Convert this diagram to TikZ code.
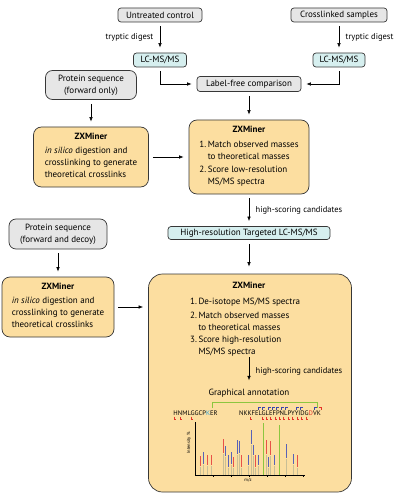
\documentclass[tikz,border=0pt]{standalone}
\usepackage{fontspec}
\setmainfont{PT Sans}
\usetikzlibrary{arrows.meta}

\definecolor{boxgray}{RGB}{230,230,230}
\definecolor{boxcyan}{RGB}{214,239,239}
\definecolor{boxorange}{RGB}{252,222,160}
\definecolor{edgegray}{RGB}{55,55,55}
\definecolor{linkgreen}{RGB}{140,198,63}
\definecolor{ionred}{RGB}{228,50,40}
\definecolor{ionblue}{RGB}{60,70,170}
\definecolor{sitecyan}{RGB}{40,160,220}
\definecolor{peakgray}{RGB}{200,190,150}

\tikzset{
  smallbox/.style={draw=edgegray, fill=boxgray, rounded corners=3pt, line width=0.7pt, inner sep=1pt},
  msbox/.style={smallbox, fill=boxcyan},
  seqbox/.style={draw=edgegray, fill=boxgray, rounded corners=7pt, line width=0.7pt, align=center, inner sep=1pt},
  minerbox/.style={draw=edgegray, fill=boxorange, rounded corners=8pt, line width=0.7pt, align=center, inner sep=2pt},
  arr/.style={-{Latex[length=4.5pt,width=3.5pt]}, line width=0.6pt, black, shorten >=5pt, shorten <=4pt},
  note/.style={font=\fontsize{8.5}{10}\selectfont},
  peak/.style={draw=peakgray, line width=0.4pt},
  ion/.style={draw=#1!85!white, line width=1pt},
}

\begin{document}
\begin{tikzpicture}[x=1pt, y=-1pt, font=\fontsize{9}{12}\selectfont]
\useasboundingbox (0,0) rectangle (403,497);

% samples
\node[smallbox, minimum width=84, minimum height=14] (untreated) at (160,15) {Untreated control};
\node[smallbox, minimum width=96, minimum height=14] (xlinked) at (339,15) {Crosslinked samples};
\node[msbox, minimum width=53, minimum height=14] (lcleft) at (160,60) {LC-MS/MS};
\node[msbox, minimum width=52, minimum height=14] (lcright) at (339,60) {LC-MS/MS};
\node[smallbox, minimum width=104, minimum height=15] (labelfree) at (249,84) {Label-free comparison};

% first search
\node[seqbox, minimum width=91, minimum height=29] (seqfwd) at (91,85) {Protein sequence\\(forward only)};
\node[minerbox, minimum width=115, minimum height=60] (minerfwd) at (91,157)
  {\textbf{ZXMiner}\\[4pt]
   \begin{tabular}{@{}l@{}}
   \textit{in silico} digestion and\\
   crosslinking to generate\\
   theoretical crosslinks
   \end{tabular}};
\node[minerbox, minimum width=120, minimum height=74] (minerlow) at (249,157)
  {\textbf{ZXMiner}\\[5pt]
   \begin{tabular}{@{}r@{\,}l@{}}
   1. & Match observed masses\\
      & to theoretical masses\\[1pt]
   2. & Score low-resolution\\
      & MS/MS spectra
   \end{tabular}};

\node[msbox, minimum width=162, minimum height=13] (hires) at (249,233) {High-resolution Targeted LC-MS/MS};

% second search
\node[seqbox, minimum width=98, minimum height=30] (seqdecoy) at (58,234) {Protein sequence\\(forward and decoy)};
\node[minerbox, minimum width=112, minimum height=60] (minerdecoy) at (58,307)
  {\textbf{ZXMiner}\\[4pt]
   \begin{tabular}{@{}l@{}}
   \textit{in silico} digestion and\\
   crosslinking to generate\\
   theoretical crosslinks
   \end{tabular}};
\node[minerbox, rounded corners=14pt, minimum width=203, minimum height=218] (minerhigh) at (250,383) {};
\node[font=\fontsize{9}{12}\selectfont\bfseries] (hightitle) at (249,285) {ZXMiner};
\node[anchor=north west, inner sep=0pt] (highlist) at (190,296)
  {\begin{tabular}{@{}r@{\,}l@{}}
   1. & De-isotope MS/MS spectra\\[2pt]
   2. & Match observed masses\\
      & to theoretical masses\\
   3. & Score high-resolution\\
      & MS/MS spectra
   \end{tabular}};
\coordinate (listend) at (249,357);
\node (annot) at (249,393) {Graphical annotation};

% peptides and crosslink
\node[font=\fontsize{6.6}{8}\selectfont, inner sep=0pt] (pepa) at (195.5,413)
  {HNMLGGCP\textcolor{sitecyan}{K}ER};
\node[font=\fontsize{6.6}{8}\selectfont, inner sep=0pt] (pepb) at (280,413)
  {NKKFELGLEFPNLPYYIDG\textcolor{ionred}{D}VK};
\draw[linkgreen, line width=0.6pt] (212,408) -- (212,402) -- (317,402) -- (317,408);
\foreach \fx in {174,180,191,250,262,266,270,275,279,283,288,292,297,301,306}
  \draw[ionred, line width=0.4pt] (\fx,416.5) -- (\fx,419) -- (\fx+2,419);
\foreach \fx in {258,262,268,272,276,281,285,296,300,314}
  \draw[ionblue, line width=0.4pt] (\fx,409.5) -- (\fx,407.5) -- (\fx+2.5,407.5);
\draw[ionred, line width=0.4pt] (321,409.5) -- (321,407.5) -- (319,407.5);

% spectrum
\draw[line width=0.5pt] (195,422) -- (195,475) -- (305,475);
\foreach \tx in {213,231,249,267,285,303}
  \draw[line width=0.3pt] (\tx,475) -- (\tx,476.5);
\draw[linkgreen, line width=0.4pt] (263,423) -- (263,475);
\draw[linkgreen, line width=0.4pt] (279,425) -- (279,475);
\foreach \px/\ly/\lh/\lc in {200/456/10/ionred, 203/452/12/ionblue, 207/455/10/ionred,
    211/455/10/ionred, 223/439/14/ionred, 225/446/10/ionblue, 228/455/12/ionblue,
    231/452/12/ionblue, 233/457/10/ionred, 237/440/14/ionblue, 239/441/12/ionblue,
    241/455/12/ionred, 248/455/10/ionblue, 251/430/14/ionblue, 253/445/10/ionblue,
    255/455/12/ionred, 258/455/10/ionblue, 266/440/14/ionred, 270/441/14/ionred,
    268/457/10/ionblue, 274/455/10/ionblue, 286/444/14/ionblue, 293/454/10/ionblue,
    297/455/12/ionred}
  {
    \draw[peak] (\px,{\ly+\lh+1}) -- (\px,475);
    \draw[ion=\lc] (\px,\ly) -- ++(0,\lh);
  }
\node[rotate=90, font=\fontsize{4.5}{5}\selectfont, inner sep=0pt] (intensity) at (189,443) {Intensity \%};
\node[font=\fontsize{4.5}{5}\selectfont, inner sep=0pt] (mz) at (248,480) {m/z};

% connectors
\draw[arr] (untreated) -- node[note, left=3pt] {tryptic digest} (lcleft);
\draw[arr] (xlinked) -- node[note, right=3pt] {tryptic digest} (lcright);
\draw[arr] (lcleft.south) |- (labelfree.west);
\draw[arr] (lcright.south) |- (labelfree.east);
\draw[arr] (seqfwd) -- (minerfwd);
\draw[arr] (labelfree) -- (minerlow);
\draw[arr] (minerfwd) -- (minerlow);
\draw[arr] (minerlow) -- node[note, right=3pt] {high-scoring candidates} (hires);
\draw[arr] (seqdecoy) -- (minerdecoy);
\draw[arr, shorten >=7pt] (hires) -- (hires |- minerhigh.north);
\draw[arr] (minerdecoy) -- (minerhigh.west |- minerdecoy);
\draw[arr, shorten <=0pt] (listend) -- node[note, right=3pt] {high-scoring candidates} (annot);
\end{tikzpicture}
\end{document}
